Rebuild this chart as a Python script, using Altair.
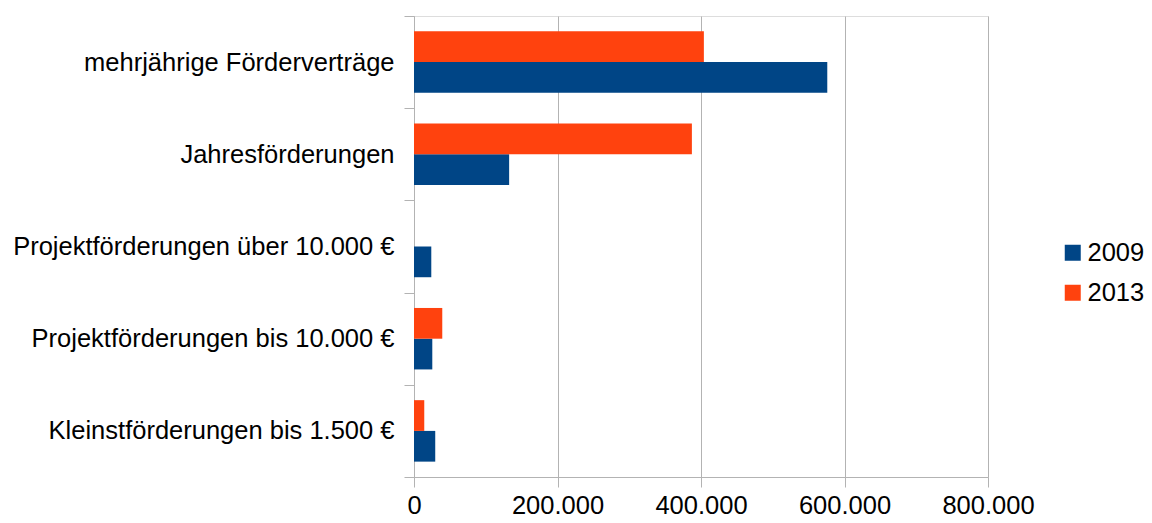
import altair as alt
import pandas as pd

categories = [
    "mehrjährige Förderverträge",
    "Jahresförderungen",
    "Projektförderungen über 10.000 €",
    "Projektförderungen bis 10.000 €",
    "Kleinstförderungen bis 1.500 €",
]
years = ["2009", "2013"]
values_2009 = [576000, 132600, 24100, 25500, 29600]
values_2013 = [404000, 387300, 0, 39400, 14300]
colors = ["#004586", "#ff420e"]
x_ticks = [0, 200000, 400000, 600000, 800000]

rows = []
for c, v in zip(categories, values_2009):
    rows.append({"category": c, "year": "2009", "value": v})
for c, v in zip(categories, values_2013):
    rows.append({"category": c, "year": "2013", "value": v})
df = pd.DataFrame(rows)

FONT = "Liberation Sans"
GRID = "#b3b3b3"
FS = 25.5

chart = alt.Chart(df).mark_bar().encode(
    x=alt.X(
        "value:Q",
        scale=alt.Scale(domain=[0, 800000], nice=False),
        axis=alt.Axis(
            values=x_ticks,
            title=None,
            grid=True,
            gridColor=GRID,
            domainColor=GRID,
            tickColor=GRID,
            tickSize=10,
            labelPadding=6,
            labelFlush=False,
            labelOverlap=False,
            labelFontSize=FS,
            labelFont=FONT,
            labelColor="#000000",
            labelExpr="replace(format(datum.value, ','), ',', '.')",
        ),
    ),
    y=alt.Y(
        "category:N",
        sort=categories,
        scale=alt.Scale(paddingInner=0, paddingOuter=0),
        axis=alt.Axis(
            title=None,
            grid=False,
            domainColor=GRID,
            tickColor=GRID,
            tickSize=10,
            tickBand="extent",
            labelPadding=10,
            labelFontSize=FS,
            labelFont=FONT,
            labelColor="#000000",
            labelLimit=500,
        ),
    ),
    yOffset=alt.YOffset(
        "year:N",
        sort=["2013", "2009"],
        scale=alt.Scale(paddingInner=0, paddingOuter=0.5),
    ),
    color=alt.Color(
        "year:N",
        scale=alt.Scale(domain=years, range=colors),
        legend=alt.Legend(
            title=None,
            orient="none",
            legendX=646,
            legendY=224,
            padding=0,
            symbolType="square",
            symbolSize=256,
            symbolStrokeWidth=0,
            labelFontSize=FS,
            labelFont=FONT,
            labelColor="#000000",
            rowPadding=13,
            labelOffset=2,
        ),
    ),
).properties(
    width=574,
    height=461,
    autosize=alt.AutoSizeParams(type="none"),
    padding={"left": 414, "top": 16, "right": 164, "bottom": 46},
).configure_view(
    stroke=GRID,
    strokeWidth=1,
).configure(background="#ffffff")

chart.save("out.html", embed_options={"renderer": "svg", "actions": False})
